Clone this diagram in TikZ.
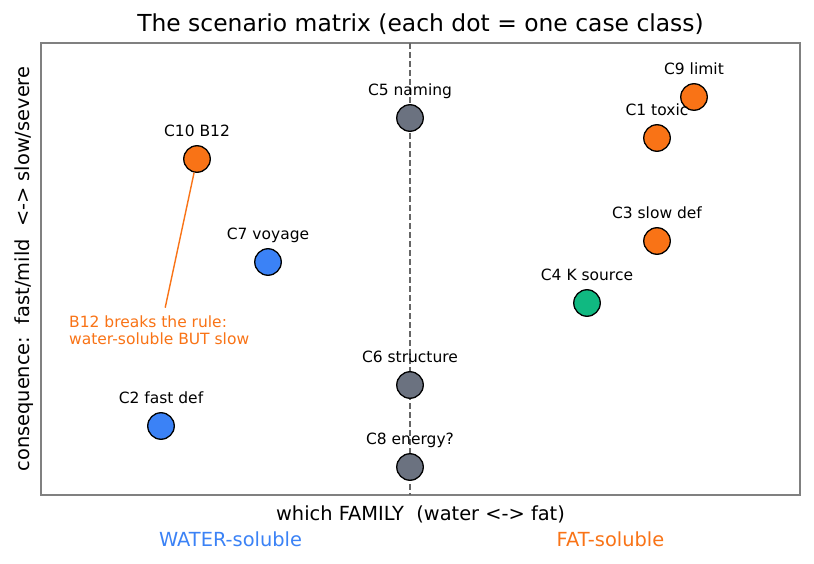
\documentclass[tikz,border=0pt]{standalone}
\usepackage{fontspec}
\setmainfont{DejaVu Sans}
\usepackage{tikz}
\definecolor{fatcol}{HTML}{F97316}
\definecolor{watercol}{HTML}{3B82F6}
\definecolor{kcol}{HTML}{10B981}
\definecolor{othercol}{HTML}{6B7280}
\definecolor{framecol}{HTML}{808080}
\definecolor{midcol}{HTML}{666666}

\begin{document}
\begin{tikzpicture}[x=1pt, y=-1pt,
	dot/.style={circle, draw=black, line width=1.3pt, minimum size=26.5pt, inner sep=0pt},
	lbl/.style={font=\fontsize{15.5}{18}\selectfont, inner sep=0pt, anchor=base},
	axlbl/.style={font=\fontsize{19.4}{22}\selectfont, inner sep=0pt, anchor=base}]
	\useasboundingbox[fill=white] (0,0) rectangle (814,564);
	\draw[color=framecol, line width=1.3pt] (41,43) rectangle (800,495);
	\draw[color=midcol, line width=1.2pt, dash pattern=on 6pt off 3pt] (410,43) -- (410,495);
	\node[font=\fontsize{23.4}{27}\selectfont, inner sep=0pt, anchor=base] (title) at (420.5,31.7) {The scenario matrix (each dot = one case class)};
	\node[axlbl] (xlabel) at (420.5,520) {which FAMILY\ \ (water <-> fat)};
	\node[axlbl, rotate=90] (ylabel) at (29.5,269) {consequence:\ \ fast/mild\ \ <-> slow/severe};
	\node[axlbl, text=watercol] (water) at (230.5,546) {WATER-soluble};
	\node[axlbl, text=fatcol] (fat) at (610.5,546) {FAT-soluble};
	\node[dot, fill=othercol] (c5) at (410,118) {};
	\node[lbl] (c5l) at (410,95.5) {C5 naming};
	\node[dot, fill=fatcol] (c10) at (197,159) {};
	\node[lbl] (c10l) at (197,136.5) {C10 B12};
	\node[dot, fill=fatcol] (c9) at (694,97) {};
	\node[lbl] (c9l) at (694,74.5) {C9 limit};
	\node[dot, fill=fatcol] (c1) at (657,138) {};
	\node[lbl] (c1l) at (657,115.5) {C1 toxic};
	\node[dot, fill=fatcol] (c3) at (657,241) {};
	\node[lbl] (c3l) at (657,218.5) {C3 slow def};
	\node[dot, fill=kcol] (c4) at (587,303) {};
	\node[lbl] (c4l) at (587,280.5) {C4 K source};
	\node[dot, fill=watercol] (c7) at (268,262) {};
	\node[lbl] (c7l) at (268,239.5) {C7 voyage};
	\node[dot, fill=othercol] (c6) at (410,385) {};
	\node[lbl] (c6l) at (410,362.5) {C6 structure};
	\node[dot, fill=watercol] (c2) at (161,426) {};
	\node[lbl] (c2l) at (161,403.5) {C2 fast def};
	\node[dot, fill=othercol] (c8) at (410,467) {};
	\node[lbl] (c8l) at (410,444.5) {C8 energy?};
	\node[font=\fontsize{15.5}{17}\selectfont, text=fatcol, inner sep=0pt, align=left, anchor=north west] (note) at (69,315.7) {B12 breaks the rule:\\water-soluble BUT slow};
	\draw[color=fatcol, line width=1.4pt] ([xshift=6pt,yshift=8pt]note.north) -- (c10);
\end{tikzpicture}
\end{document}
